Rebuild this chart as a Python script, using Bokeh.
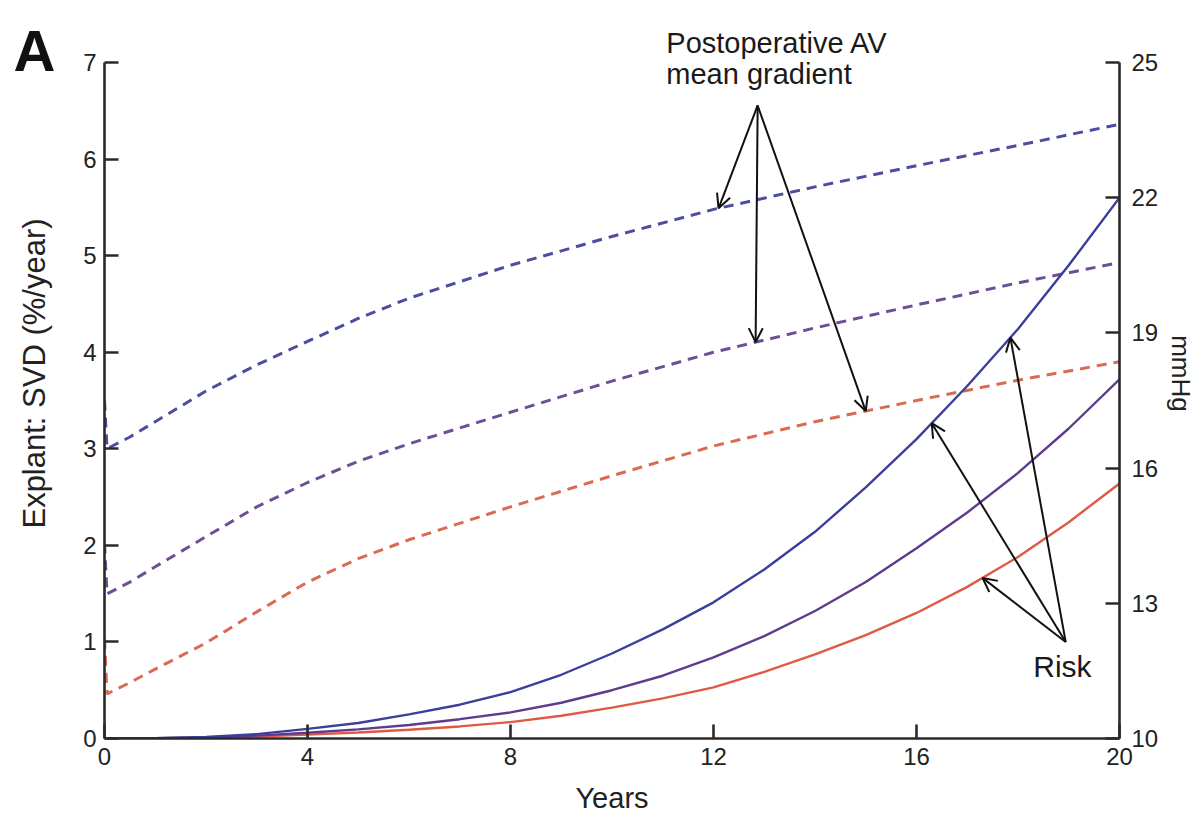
import numpy as np
from bokeh.plotting import figure
from bokeh.models import Range1d, LinearAxis, FixedTicker, Label, Arrow, OpenHead
from bokeh.embed import file_html
from bokeh.resources import INLINE

# ---------------- data ----------------
years = [0, 1, 2, 3, 4, 5, 6, 7, 8, 9, 10, 11, 12, 13, 14, 15, 16, 17, 18, 19, 20]
risk_blue = [0, 0.003, 0.015, 0.045, 0.10, 0.16, 0.25, 0.35, 0.48, 0.66, 0.88,
             1.13, 1.41, 1.75, 2.14, 2.60, 3.10, 3.65, 4.24, 4.90, 5.60]
risk_purple = [0, 0.002, 0.01, 0.03, 0.06, 0.095, 0.14, 0.20, 0.27, 0.37, 0.50,
               0.65, 0.84, 1.06, 1.32, 1.62, 1.97, 2.34, 2.75, 3.21, 3.72]
risk_red = [0, 0.002, 0.008, 0.02, 0.04, 0.062, 0.09, 0.125, 0.17, 0.235, 0.32,
            0.415, 0.53, 0.69, 0.87, 1.07, 1.30, 1.57, 1.88, 2.24, 2.64]

grad_years = [0, 0.05, 0.5, 1, 2, 3, 4, 5, 6, 8, 10, 12, 14, 16, 18, 20]
grad_blue = [17.50, 16.43, 16.69, 17.03, 17.71, 18.29, 18.81, 19.32, 19.77,
             20.50, 21.14, 21.74, 22.24, 22.71, 23.16, 23.63]
grad_purple = [14.33, 13.21, 13.47, 13.81, 14.48, 15.14, 15.68, 16.15, 16.54,
               17.24, 17.93, 18.57, 19.11, 19.62, 20.11, 20.56]
grad_red = [12.21, 10.99, 11.24, 11.54, 12.12, 12.81, 13.47, 13.99, 14.41,
            15.14, 15.83, 16.49, 17.03, 17.50, 17.95, 18.36]

x_ticks = [0, 4, 8, 12, 16, 20]
left_ticks = [0, 1, 2, 3, 4, 5, 6, 7]
right_ticks = [10, 13, 16, 19, 22, 25]

x_title = "Years"
left_title = "Explant: SVD (%/year)"
right_title = "mmHg"
grad_text = ["Postoperative AV", "mean gradient"]
risk_text = "Risk"
panel_text = "A"

# annotation anchors (years, %/year units)
grad_text_pos = (11.07, 7.041, 6.71)
risk_text_pos = (18.3, 0.57)
grad_arrow_origin = (12.87, 6.555)
grad_arrow_tip_years = [12.1, 12.83, 15.0]   # blue, purple, red dashed
risk_arrow_origin = (18.94, 1.0)
risk_arrow_tip_years = [16.3, 17.85, 17.3]   # blue, blue, red solid

C_BLUE = "#3b3f9c"
C_PURPLE = "#5e3b8c"
C_RED = "#e05944"
C_BLUE_D = "#4b4ea0"
C_PURPLE_D = "#6d4f95"
C_RED_D = "#da6a52"
AX = "#2a2a2a"
FONT = "Liberation Sans"

W, H = 1202, 823
B_LEFT, B_RIGHT, B_TOP, B_BOTTOM = 104, 83, 8, 85
FRAME_H = H - B_TOP - B_BOTTOM
Y_TOP = 7.559                      # frame reaches above the 0-7 axis
MM_LO, MM_HI = 10, 25
PANEL_ROW = 723                    # height (px above frame bottom) of the "A" tag


def to_mmhg(v):
    return MM_LO + v * (MM_HI - MM_LO) / 7.0


p = figure(width=W, height=H, x_range=Range1d(0, 20), y_range=Range1d(0, Y_TOP),
           output_backend="svg", toolbar_location=None,
           min_border_left=B_LEFT, min_border_right=B_RIGHT, min_border_top=B_TOP,
           min_border_bottom=B_BOTTOM)
p.extra_y_ranges = {"mmHg": Range1d(MM_LO, to_mmhg(Y_TOP)),
                    "panel": Range1d(0, FRAME_H)}
p.outline_line_color = None
p.xgrid.visible = False
p.ygrid.visible = False
p.background_fill_color = "white"
p.border_fill_color = "white"

# dashed gradient curves (right axis)
for ys, c in [(grad_blue, C_BLUE_D), (grad_purple, C_PURPLE_D), (grad_red, C_RED_D)]:
    p.line(grad_years, ys, y_range_name="mmHg", line_color=c, line_width=3,
           line_dash="10 7")

# solid risk curves (left axis)
for ys, c in [(risk_red, C_RED), (risk_purple, C_PURPLE), (risk_blue, C_BLUE)]:
    p.line(years, ys, line_color=c, line_width=2.4)


def style_axis(ax, size="24px", lsize="29px"):
    ax.axis_line_color = AX
    ax.axis_line_width = 2.6
    ax.major_tick_line_color = AX
    ax.major_tick_line_width = 2.6
    ax.major_tick_in = 14
    ax.major_tick_out = 0
    ax.minor_tick_line_color = None
    ax.major_label_text_font = FONT
    ax.major_label_text_font_size = size
    ax.major_label_text_color = "#222222"
    ax.axis_label_text_font = FONT
    ax.axis_label_text_font_size = lsize
    ax.axis_label_text_font_style = "normal"
    ax.axis_label_text_color = "#222222"


xa = p.xaxis[0]
style_axis(xa)
xa.ticker = FixedTicker(ticks=x_ticks)
xa.axis_label = x_title
xa.major_label_standoff = 9
xa.axis_label_standoff = 14

ya = p.yaxis[0]
style_axis(ya, lsize="31px")
ya.ticker = FixedTicker(ticks=left_ticks)
ya.bounds = (0, 7)
ya.axis_label = left_title
ya.major_label_standoff = 8
ya.axis_label_standoff = 28

ra = LinearAxis(y_range_name="mmHg")
style_axis(ra, lsize="26px")
ra.ticker = FixedTicker(ticks=right_ticks)
ra.bounds = (MM_LO, MM_HI)
ra.axis_label = right_title
ra.major_label_standoff = 12
ra.axis_label_standoff = 5
p.add_layout(ra, "right")

# panel tag "A" as a lone label of an outer, line-less axis
pa = LinearAxis(y_range_name="panel", ticker=FixedTicker(ticks=[PANEL_ROW]),
                major_label_overrides={PANEL_ROW: panel_text})
pa.axis_line_color = None
pa.major_tick_line_color = None
pa.minor_tick_line_color = None
pa.major_tick_in = 0
pa.major_tick_out = 0
pa.major_label_text_font = FONT
pa.major_label_text_font_size = "58px"
pa.major_label_text_font_style = "bold"
pa.major_label_text_color = "#111111"
pa.major_label_standoff = -41
p.add_layout(pa, "left")

# annotation texts
gx, gy1, gy2 = grad_text_pos
p.add_layout(Label(x=gx, y=gy1, text=grad_text[0], text_font=FONT,
                   text_font_size="29px", text_color="#1a1a1a"))
p.add_layout(Label(x=gx, y=gy2, text=grad_text[1], text_font=FONT,
                   text_font_size="29px", text_color="#1a1a1a"))
p.add_layout(Label(x=risk_text_pos[0], y=risk_text_pos[1], text=risk_text,
                   text_font=FONT, text_font_size="30px", text_color="#1a1a1a"))

# arrows to the gradient curves
ox, oy = grad_arrow_origin
for tx, ys in zip(grad_arrow_tip_years, [grad_blue, grad_purple, grad_red]):
    ty = float(np.interp(tx, grad_years, ys))
    p.add_layout(Arrow(end=OpenHead(size=14, line_width=2, line_color="#111111"),
                       x_start=ox, y_start=to_mmhg(oy), x_end=tx, y_end=ty,
                       y_range_name="mmHg", line_width=2, line_color="#111111"))

# arrows to the risk curves
rx, ry = risk_arrow_origin
for tx, ys in zip(risk_arrow_tip_years, [risk_blue, risk_blue, risk_red]):
    ty = float(np.interp(tx, years, ys))
    p.add_layout(Arrow(end=OpenHead(size=14, line_width=2, line_color="#111111"),
                       x_start=rx, y_start=ry, x_end=tx, y_end=ty,
                       line_width=2, line_color="#111111"))

open("out.html", "w").write(file_html(p, INLINE))
